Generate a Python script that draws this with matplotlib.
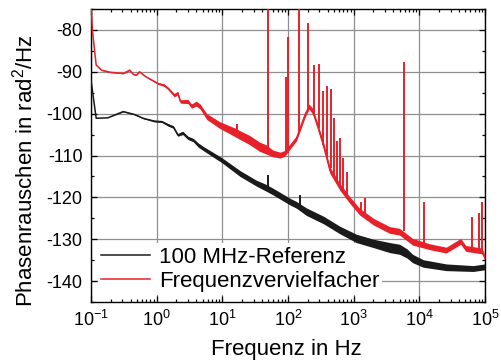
import matplotlib
matplotlib.use('Agg')
import matplotlib.pyplot as plt
from matplotlib.ticker import LogLocator, MultipleLocator, NullFormatter
import numpy as np

plt.rcParams['font.family'] = ['Liberation Sans', 'DejaVu Sans']
plt.rcParams['mathtext.fontset'] = 'custom'
plt.rcParams['mathtext.rm'] = 'Liberation Sans'
plt.rcParams['mathtext.it'] = 'Liberation Sans'
plt.rcParams['axes.unicode_minus'] = False
plt.rcParams['xtick.direction'] = 'in'
plt.rcParams['ytick.direction'] = 'in'

# 100 MHz reference: trace centre (dB rad^2/Hz) and half width of the noise band
ref_freq = [0.1, 0.12, 0.18, 0.31, 0.46, 0.62, 0.93, 1.2, 1.5, 1.8, 2.1, 2.5, 3.0,
            3.6, 4.3, 5.1, 9.8, 18.6, 33, 45, 59, 107, 135, 190, 347, 617, 1100,
            2000, 3550, 5000, 6500, 7900, 11500, 25700, 66000, 100000]
ref_db = [-92, -101.1, -101.0, -99.5, -100.2, -101.1, -101.8, -101.9, -102.7, -103.2,
          -105.1, -104.6, -105.8, -106.3, -107.5, -108.3, -111.1, -114.3, -116.6,
          -117.6, -118.6, -121, -121.8, -123.4, -125.4, -127.8, -129.8, -131, -132.0,
          -132.4, -133.4, -134.6, -135.8, -136.7, -137, -136.6]
ref_spread = [0, 0, 0, 0.1, 0.1, 0.1, 0.2, 0.2, 0.3, 0.3, 0.3, 0.4, 0.4, 0.4, 0.5,
              0.5, 0.6, 0.7, 0.7, 0.8, 0.8, 0.8, 0.8, 0.9, 0.9, 0.9, 1.0, 1.0, 1.2,
              1.2, 1.1, 1.0, 0.9, 0.8, 0.7, 0.7]
ref_spike_f = [50, 150]
ref_spike_lo = [-118.0, -122.3]
ref_spike_hi = [-114.7, -119.4]

# frequency multiplier
mult_freq = [0.1, 0.105, 0.12, 0.145, 0.195, 0.31, 0.39, 0.44, 0.49, 0.55, 0.69, 1.05,
             1.3, 1.5, 1.86, 2.1, 2.3, 3.0, 3.4, 4.0, 4.6, 5.8, 9.1, 14.8, 26, 37,
             46, 59, 76, 89, 107, 135, 182, 210, 240, 290, 347, 436, 617, 870, 1230,
             2000, 3550, 5000, 7900, 14500, 25700, 42700, 51000, 90000, 100000]
mult_db = [-73, -80, -88.4, -89.6, -90.1, -90.4, -89.6, -90.6, -90.8, -90.0, -91.2,
           -92.8, -93.2, -94.0, -95.6, -95.1, -97.1, -97.1, -98.2, -97.6, -98.3,
           -100.7, -102.7, -104.3, -106.3, -107.9, -108.5, -109.5, -109.9, -109.5,
           -107.9, -105.9, -100.3, -98.3, -99.5, -103.5, -107.5, -113.5, -117.5,
           -120.6, -123.4, -125.8, -127.8, -128.2, -130.6, -131.8, -132.6, -130.5,
           -132.2, -132.8, -134.4]
mult_spread = [0, 0, 0, 0.1, 0.1, 0.1, 0.1, 0.1, 0.1, 0.1, 0.1, 0.2, 0.3, 0.3, 0.4,
               0.4, 0.4, 0.5, 0.5, 0.6, 0.6, 0.7, 0.8, 1.0, 1.1, 1.1, 1.1, 0.8, 0.7,
               0.7, 0.6, 0.6, 0.6, 0.6, 0.7, 0.7, 0.8, 0.8, 0.8, 0.8, 0.8, 0.8, 0.8,
               0.8, 0.8, 0.7, 0.7, 0.7, 0.7, 0.7, 0.6]
mult_spike_f = [16.6, 49, 93, 98.6, 148, 199, 245, 292, 344, 396, 445, 500, 561, 611,
                692, 780, 1300, 1480, 5870, 11600, 64500, 80000, 90000]
mult_spike_lo = [-104.3, -108.7, -109.5, -109.3, -104.5, -99.0, -100.5, -103.5,
                 -107.5, -110.5, -113.0, -115.0, -116.5, -117.2, -119.0, -120.0,
                 -124.0, -124.5, -128.0, -131.2, -132.3, -132.5, -132.7]
mult_spike_hi = [-102.5, -60, -91.2, -81.8, -60, -78.3, -88.4, -88.2, -94.5, -93.4,
                 -94.2, -101.0, -106.5, -105.8, -110.7, -113.9, -121.0, -120.2, -87.6,
                 -121.0, -124.6, -123.8, -121.0]

black = '#1a1a1a'
red = '#e8202a'

fig = plt.figure(figsize=(5.01, 3.62), dpi=100)
ax = fig.add_axes([0.1816, 0.1657, 0.7864, 0.8094])

for f, d, s, spf, splo, sphi, c, lab in [
        (ref_freq, ref_db, ref_spread, ref_spike_f, ref_spike_lo, ref_spike_hi, black, '100 MHz-Referenz'),
        (mult_freq, mult_db, mult_spread, mult_spike_f, mult_spike_lo, mult_spike_hi, red, 'Frequenzvervielfacher')]:
    f = np.array(f)
    d = np.array(d)
    s = np.array(s)
    ax.fill_between(f, d - s, d + s, color=c, lw=0, zorder=3)
    ax.plot(f, d, color=c, lw=1.1, label=lab, zorder=3)
    ax.vlines(spf, splo, sphi, color=c, lw=1.4, zorder=3)

ax.set_xscale('log')
ax.set_xlim(0.1, 1e5)
ax.set_ylim(-145, -75)

ax.xaxis.set_major_locator(LogLocator(base=10, numticks=10))
ax.xaxis.set_minor_locator(LogLocator(base=10, subs=np.arange(2, 10), numticks=20))
ax.xaxis.set_minor_formatter(NullFormatter())
ax.yaxis.set_minor_locator(MultipleLocator(5))
ax.set_yticks([-80, -90, -100, -110, -120, -130, -140])

ax.tick_params(which='both', top=True, right=True, labelsize=13, width=0.9)
ax.tick_params(which='major', length=4, pad=6)
ax.tick_params(which='minor', length=2.5)
for sp in ax.spines.values():
    sp.set_linewidth(1.0)

ax.grid(True, which='major', color='#8f8f8f', lw=0.9, zorder=1)
ax.set_axisbelow(True)

ax.set_xlabel('Frequenz in Hz', fontsize=16)
ax.set_ylabel('Phasenrauschen in rad$^2$/Hz', fontsize=16)
ax.xaxis.set_label_coords(0.497, -0.125)
ax.yaxis.set_label_coords(-0.135, 0.447)

leg = ax.legend(loc='lower left', bbox_to_anchor=(0.0, 0.0), fontsize=16,
                frameon=True, fancybox=False, handlelength=2.2, handletextpad=0.4,
                labelspacing=0.15, borderpad=0.15, borderaxespad=0.3)
leg.get_frame().set_facecolor('white')
leg.get_frame().set_edgecolor('none')
leg.get_frame().set_alpha(1)
# white box hides the grid but the traces stay on top
leg.set_zorder(2)

fig.savefig('out.png', dpi=100)
